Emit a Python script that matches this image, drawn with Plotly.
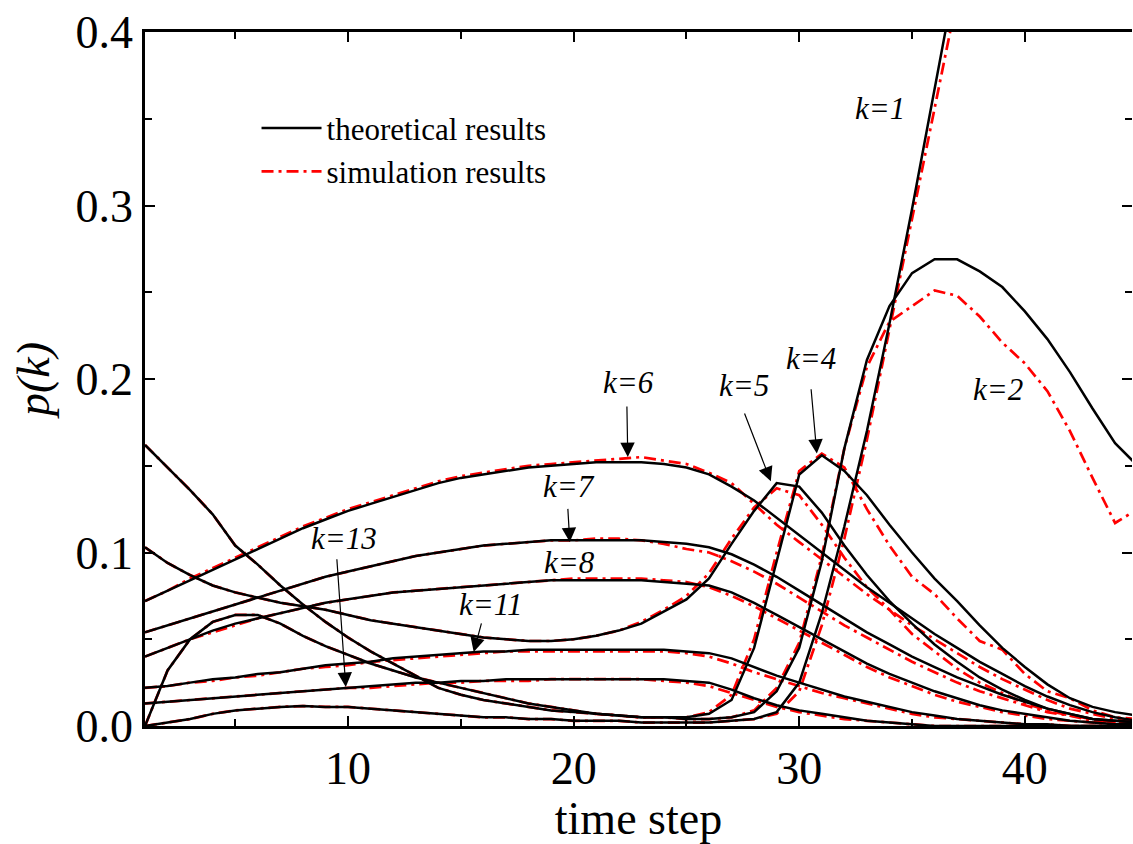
import plotly.graph_objects as go

# time steps
t = list(range(1, 46))

# theoretical results p(k) per degree class
theo_k1 = [0.000, 0.002, 0.004, 0.007, 0.009, 0.010, 0.011, 0.0115, 0.011, 0.011,
           0.010, 0.009, 0.008, 0.007, 0.006, 0.005, 0.005, 0.004, 0.004, 0.003,
           0.003, 0.003, 0.002, 0.002, 0.002, 0.002, 0.003, 0.004, 0.008, 0.025,
           0.065, 0.115, 0.170, 0.232, 0.298, 0.365, 0.432, 0.500, 0.570, 0.640,
           0.710, 0.780, 0.850, 0.920, 0.990]
theo_k2 = [0.162, 0.149, 0.136, 0.122, 0.104, 0.093, 0.081, 0.070, 0.060, 0.051,
           0.043, 0.036, 0.029, 0.022, 0.018, 0.015, 0.013, 0.011, 0.009, 0.008,
           0.007, 0.006, 0.005, 0.005, 0.004, 0.004, 0.005, 0.008, 0.020, 0.045,
           0.095, 0.160, 0.211, 0.242, 0.261, 0.269, 0.269, 0.262, 0.253, 0.239,
           0.223, 0.204, 0.183, 0.163, 0.150]
theo_k4 = [0.000, 0.032, 0.050, 0.060, 0.064, 0.064, 0.059, 0.052, 0.046, 0.041,
           0.036, 0.032, 0.028, 0.025, 0.022, 0.019, 0.016, 0.013, 0.011, 0.009,
           0.007, 0.006, 0.005, 0.005, 0.005, 0.007, 0.015, 0.045, 0.095, 0.145,
           0.156, 0.147, 0.133, 0.116, 0.100, 0.085, 0.072, 0.058, 0.045, 0.034,
           0.024, 0.016, 0.011, 0.008, 0.006]
theo_k5 = [0.103, 0.094, 0.087, 0.081, 0.077, 0.074, 0.071, 0.069, 0.067, 0.064,
           0.061, 0.059, 0.057, 0.055, 0.053, 0.051, 0.050, 0.049, 0.049, 0.050,
           0.052, 0.055, 0.059, 0.066, 0.073, 0.085, 0.105, 0.124, 0.140, 0.138,
           0.123, 0.104, 0.087, 0.072, 0.059, 0.047, 0.037, 0.028, 0.021, 0.015,
           0.010, 0.007, 0.004, 0.003, 0.002]
theo_k6 = [0.072, 0.078, 0.084, 0.090, 0.096, 0.102, 0.108, 0.114, 0.119, 0.124,
           0.128, 0.132, 0.136, 0.140, 0.143, 0.145, 0.147, 0.149, 0.150, 0.151,
           0.152, 0.152, 0.152, 0.151, 0.149, 0.145, 0.138, 0.130, 0.120, 0.110,
           0.100, 0.090, 0.080, 0.071, 0.062, 0.053, 0.045, 0.037, 0.030, 0.023,
           0.017, 0.012, 0.008, 0.005, 0.003]
theo_k7 = [0.054, 0.058, 0.062, 0.066, 0.070, 0.074, 0.078, 0.082, 0.086, 0.089,
           0.092, 0.095, 0.098, 0.100, 0.102, 0.104, 0.105, 0.106, 0.107, 0.107,
           0.107, 0.107, 0.107, 0.106, 0.105, 0.103, 0.099, 0.093, 0.086, 0.078,
           0.070, 0.062, 0.054, 0.047, 0.040, 0.034, 0.028, 0.023, 0.018, 0.014,
           0.010, 0.007, 0.004, 0.003, 0.002]
theo_k8 = [0.040, 0.045, 0.050, 0.055, 0.059, 0.062, 0.065, 0.068, 0.071, 0.073,
           0.075, 0.077, 0.078, 0.079, 0.080, 0.081, 0.082, 0.083, 0.084, 0.084,
           0.084, 0.084, 0.084, 0.083, 0.082, 0.081, 0.077, 0.071, 0.064, 0.057,
           0.050, 0.043, 0.036, 0.030, 0.025, 0.020, 0.016, 0.012, 0.009, 0.007,
           0.005, 0.003, 0.002, 0.001, 0.001]
theo_k11 = [0.022, 0.023, 0.025, 0.027, 0.028, 0.030, 0.031, 0.033, 0.035, 0.036,
            0.037, 0.039, 0.040, 0.041, 0.042, 0.043, 0.043, 0.044, 0.044, 0.044,
            0.044, 0.044, 0.044, 0.044, 0.043, 0.042, 0.039, 0.034, 0.029, 0.025,
            0.021, 0.017, 0.014, 0.011, 0.008, 0.006, 0.004, 0.003, 0.002, 0.001,
            0.001, 0.000, 0.000, 0.000, 0.000]
theo_k13 = [0.013, 0.014, 0.015, 0.016, 0.017, 0.018, 0.019, 0.020, 0.021, 0.022,
            0.023, 0.024, 0.025, 0.025, 0.026, 0.026, 0.027, 0.027, 0.027, 0.027,
            0.027, 0.027, 0.027, 0.027, 0.026, 0.025, 0.021, 0.016, 0.012, 0.009,
            0.007, 0.005, 0.003, 0.002, 0.001, 0.000, 0.000, 0.000, 0.000, 0.000,
            0.000, 0.000, 0.000, 0.000, 0.000]

# simulation results p(k) per degree class
sim_k1 = [0.000, 0.002, 0.004, 0.007, 0.009, 0.010, 0.011, 0.0115, 0.011, 0.011,
          0.010, 0.009, 0.008, 0.007, 0.006, 0.005, 0.005, 0.004, 0.004, 0.003,
          0.003, 0.003, 0.002, 0.002, 0.002, 0.002, 0.003, 0.004, 0.007, 0.020,
          0.058, 0.108, 0.165, 0.228, 0.292, 0.356, 0.420, 0.485, 0.550, 0.615,
          0.680, 0.745, 0.810, 0.875, 0.940]
sim_k2 = [0.162, 0.149, 0.136, 0.122, 0.104, 0.093, 0.081, 0.070, 0.060, 0.051,
          0.043, 0.036, 0.029, 0.022, 0.018, 0.015, 0.013, 0.011, 0.009, 0.008,
          0.007, 0.006, 0.005, 0.005, 0.004, 0.004, 0.005, 0.009, 0.022, 0.048,
          0.098, 0.160, 0.207, 0.233, 0.242, 0.251, 0.248, 0.236, 0.221, 0.209,
          0.193, 0.170, 0.143, 0.117, 0.125]
sim_k4 = [0.000, 0.032, 0.050, 0.060, 0.064, 0.064, 0.059, 0.052, 0.046, 0.041,
          0.036, 0.032, 0.028, 0.025, 0.022, 0.019, 0.016, 0.013, 0.011, 0.009,
          0.007, 0.006, 0.005, 0.005, 0.005, 0.008, 0.018, 0.050, 0.100, 0.147,
          0.157, 0.149, 0.125, 0.104, 0.086, 0.076, 0.062, 0.049, 0.044, 0.030,
          0.020, 0.016, 0.009, 0.005, 0.004]
sim_k5 = [0.103, 0.094, 0.087, 0.081, 0.077, 0.074, 0.071, 0.069, 0.067, 0.064,
          0.061, 0.059, 0.057, 0.055, 0.053, 0.051, 0.050, 0.049, 0.049, 0.050,
          0.052, 0.055, 0.060, 0.067, 0.075, 0.088, 0.108, 0.126, 0.137, 0.133,
          0.116, 0.097, 0.080, 0.067, 0.053, 0.043, 0.033, 0.025, 0.019, 0.013,
          0.009, 0.006, 0.004, 0.002, 0.001]
sim_k6 = [0.072, 0.078, 0.085, 0.091, 0.097, 0.103, 0.109, 0.115, 0.120, 0.125,
          0.129, 0.133, 0.137, 0.141, 0.144, 0.146, 0.148, 0.150, 0.151, 0.152,
          0.153, 0.154, 0.155, 0.153, 0.151, 0.146, 0.140, 0.128, 0.116, 0.106,
          0.096, 0.086, 0.076, 0.067, 0.058, 0.050, 0.042, 0.034, 0.027, 0.021,
          0.015, 0.010, 0.007, 0.004, 0.002]
sim_k7 = [0.054, 0.058, 0.062, 0.066, 0.070, 0.074, 0.078, 0.082, 0.086, 0.089,
          0.092, 0.095, 0.098, 0.100, 0.102, 0.104, 0.105, 0.106, 0.107, 0.107,
          0.108, 0.108, 0.107, 0.105, 0.102, 0.100, 0.095, 0.089, 0.082, 0.074,
          0.066, 0.058, 0.051, 0.044, 0.037, 0.031, 0.025, 0.020, 0.016, 0.012,
          0.008, 0.006, 0.003, 0.002, 0.001]
sim_k8 = [0.040, 0.045, 0.050, 0.054, 0.058, 0.062, 0.065, 0.068, 0.071, 0.073,
          0.075, 0.077, 0.078, 0.079, 0.080, 0.081, 0.082, 0.083, 0.084, 0.085,
          0.085, 0.085, 0.085, 0.084, 0.083, 0.080, 0.075, 0.069, 0.062, 0.055,
          0.048, 0.041, 0.034, 0.028, 0.023, 0.018, 0.014, 0.011, 0.008, 0.006,
          0.004, 0.003, 0.002, 0.001, 0.001]
sim_k11 = [0.022, 0.023, 0.025, 0.026, 0.028, 0.029, 0.031, 0.033, 0.034, 0.035,
           0.037, 0.038, 0.039, 0.040, 0.041, 0.042, 0.043, 0.043, 0.043, 0.043,
           0.043, 0.043, 0.043, 0.043, 0.042, 0.040, 0.036, 0.031, 0.027, 0.023,
           0.019, 0.016, 0.013, 0.010, 0.007, 0.005, 0.004, 0.003, 0.002, 0.001,
           0.001, 0.000, 0.000, 0.000, 0.000]
sim_k13 = [0.013, 0.014, 0.015, 0.016, 0.017, 0.018, 0.019, 0.020, 0.021, 0.022,
           0.022, 0.023, 0.024, 0.025, 0.025, 0.026, 0.026, 0.026, 0.027, 0.027,
           0.027, 0.027, 0.027, 0.026, 0.025, 0.023, 0.019, 0.015, 0.011, 0.008,
           0.006, 0.004, 0.003, 0.002, 0.001, 0.000, 0.000, 0.000, 0.000, 0.000,
           0.000, 0.000, 0.000, 0.000, 0.000]

theory = [theo_k1, theo_k2, theo_k4, theo_k5, theo_k6, theo_k7, theo_k8, theo_k11, theo_k13]
simulation = [sim_k1, sim_k2, sim_k4, sim_k5, sim_k6, sim_k7, sim_k8, sim_k11, sim_k13]

# curve labels: (text, x, y) and arrows: (tip x, tip y, tail x, tail y)
labels = [("k=1", 33.6, 0.356), ("k=2", 38.8, 0.194), ("k=4", 30.5, 0.212),
          ("k=5", 27.55, 0.196), ("k=6", 22.45, 0.198), ("k=7", 19.8, 0.138),
          ("k=8", 19.8, 0.094), ("k=11", 16.3, 0.070), ("k=13", 9.8, 0.108)]
arrows = [(30.78, 0.157, 30.52, 0.195), (28.74, 0.141, 27.55, 0.181),
          (22.4, 0.155, 22.36, 0.185), (19.83, 0.106, 19.74, 0.126),
          (15.57, 0.0427, 15.93, 0.060), (9.9, 0.0225, 9.5, 0.097)]

SERIF = "Liberation Serif, Times New Roman, serif"
RED_DASHDOT = "12px,5px,3px,5px"

fig = go.Figure()
for i, ys in enumerate(simulation):
    fig.add_trace(go.Scatter(
        x=t, y=ys, mode="lines", name="simulation results",
        line=dict(color="#ff0000", width=2.7, dash=RED_DASHDOT),
        showlegend=(i == 0), legendrank=2, cliponaxis=True))
for i, ys in enumerate(theory):
    fig.add_trace(go.Scatter(
        x=t, y=ys, mode="lines", name="theoretical results",
        line=dict(color="black", width=2.5),
        showlegend=(i == 0), legendrank=1, cliponaxis=True))

# right-hand tick marks without an axis line
fig.add_trace(go.Scatter(x=[None], y=[None], yaxis="y2", showlegend=False))

for text, x, y in labels:
    fig.add_annotation(x=x, y=y, text=f"<i>{text}</i>", showarrow=False,
                       font=dict(family=SERIF, size=31, color="black"))
for x, y, ax, ay in arrows:
    fig.add_annotation(x=x, y=y, ax=ax, ay=ay, axref="x", ayref="y", text="",
                       showarrow=True, arrowhead=2, arrowsize=2.4, arrowwidth=1.2,
                       arrowcolor="black", standoff=0, startstandoff=0)

axis_common = dict(
    showline=True, linecolor="black", linewidth=2.6,
    ticks="inside", ticklen=10, tickwidth=2, tickcolor="black",
    showgrid=False, zeroline=False,
    tickfont=dict(family=SERIF, size=46, color="black"),
)

fig.update_layout(
    width=1133, height=844,
    margin=dict(l=145, r=1, t=32, b=118),
    paper_bgcolor="white", plot_bgcolor="white",
    font=dict(family=SERIF, color="black"),
    xaxis=dict(range=[1, 44.75], tick0=0, dtick=10, mirror="ticks",
               minor=dict(ticks="inside", ticklen=7, tickwidth=2, dtick=5, tick0=0,
                          tickcolor="black"),
               title=dict(text="time step", font=dict(family=SERIF, size=46),
                          standoff=8),
               **axis_common),
    yaxis=dict(range=[0, 0.4], tick0=0, dtick=0.1, tickformat=".1f",
               minor=dict(ticks="inside", ticklen=7, tickwidth=2, dtick=0.05,
                          tickcolor="black"),
               title=dict(text="<i>p(k)</i>", font=dict(family=SERIF, size=46),
                          standoff=12),
               **axis_common),
    yaxis2=dict(overlaying="y", side="right", range=[0, 0.4], dtick=0.1, tick0=0,
                showticklabels=False, showline=False, showgrid=False, zeroline=False,
                ticks="inside", ticklen=10, tickwidth=2, tickcolor="black",
                minor=dict(ticks="inside", ticklen=7, tickwidth=2, dtick=0.05,
                           tickcolor="black")),
    legend=dict(x=0.113, y=0.9, xanchor="left", yanchor="top",
                bgcolor="rgba(0,0,0,0)", borderwidth=0, tracegroupgap=0,
                font=dict(family=SERIF, size=31, color="black"),
                itemwidth=60),
    showlegend=True,
)

fig.write_html("out.html")
